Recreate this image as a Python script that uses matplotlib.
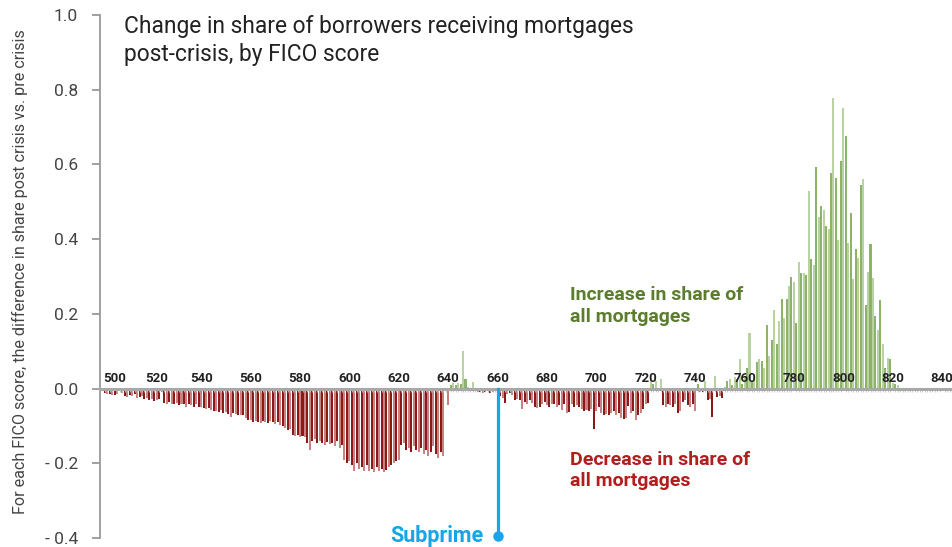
import matplotlib
matplotlib.use("Agg")
import matplotlib.pyplot as plt
import numpy as np

plt.rcParams['font.family'] = ['Roboto', 'DejaVu Sans']

#%% Data - change in share of mortgages by FICO score (post crisis minus pre crisis)

# scores with no bar in the source chart
missing_scores = [503, 508, 513, 523, 531]
scores = [s for s in range(496, 845) if s not in missing_scores]

diff_496_539 = [-0.012, -0.015, -0.014, -0.016,
                -0.016, -0.015, -0.006, -0.012, -0.020, -0.022, -0.018, -0.020, -0.015,
                -0.025, -0.022, -0.020, -0.028, -0.025, -0.030, -0.028, -0.032,
                -0.030, -0.028, -0.010, -0.038, -0.040, -0.035, -0.040, -0.042, -0.038,
                -0.045, -0.040, -0.042, -0.048, -0.040, -0.045, -0.050, -0.042, -0.048]
diff_540_567 = [-0.050, -0.052, -0.055, -0.052, -0.058, -0.060, -0.060, -0.062, -0.058, -0.065,
                -0.063, -0.068, -0.075, -0.066, -0.068, -0.070, -0.070, -0.072, -0.080, -0.085,
                -0.085, -0.090, -0.088, -0.090, -0.092, -0.088, -0.090, -0.092]
diff_568_639 = [-0.088, -0.090, -0.095, -0.090, -0.098, -0.100, -0.105, -0.110, -0.108, -0.125,
                -0.128, -0.125, -0.130, -0.128, -0.130, -0.145, -0.165, -0.140, -0.135, -0.145,
                -0.140, -0.145, -0.150, -0.142, -0.148, -0.145, -0.155, -0.140, -0.160, -0.150,
                -0.190, -0.200, -0.195, -0.205, -0.220, -0.200, -0.215, -0.210, -0.220, -0.205,
                -0.220, -0.215, -0.222, -0.210, -0.220, -0.215, -0.222, -0.218, -0.210, -0.205,
                -0.200, -0.195, -0.190, -0.150, -0.145, -0.165, -0.160, -0.170, -0.155, -0.165,
                -0.170, -0.160, -0.175, -0.165, -0.180, -0.170, -0.155, -0.175, -0.185, -0.170,
                -0.180, 0.000]
diff_640_659 = [-0.043, 0.010, 0.015, 0.010, 0.015, 0.012, 0.100, 0.025, 0.005, -0.003,
                0.017, -0.005, -0.010, -0.008, -0.012, -0.010, -0.006, -0.012, -0.010, -0.005]
diff_660_699 = [-0.008, -0.020, -0.025, -0.038, -0.015, -0.012, -0.018, -0.030, -0.028, -0.030,
                -0.055, -0.035, -0.040, -0.030, -0.038, -0.050, -0.052, -0.048, -0.040, -0.035,
                -0.045, -0.050, -0.040, -0.042, -0.050, -0.045, -0.057, -0.040, -0.065, -0.062,
                -0.040, -0.048, -0.045, -0.050, -0.055, -0.060, -0.058, -0.060, -0.055, -0.108]
diff_700_759 = [-0.060, -0.050, -0.065, -0.070, -0.068, -0.070, -0.065, -0.060, -0.070, -0.065,
                -0.080, -0.082, -0.078, -0.047, -0.065, -0.060, -0.083, -0.070, -0.065, -0.056,
                -0.040, -0.038, 0.020, 0.012, 0.020, -0.005, 0.025, -0.045, -0.050, -0.040,
                -0.045, -0.048, -0.042, -0.065, -0.060, -0.035, -0.030, -0.045, -0.050, -0.042,
                -0.060, 0.012, -0.008, -0.010, 0.020, -0.030, -0.028, -0.077, 0.033, -0.022,
                -0.020, -0.025, 0.005, 0.020, 0.025, 0.010, 0.030, 0.025, 0.080, 0.012]
diff_760_822 = [0.030, 0.055, 0.150, 0.020, 0.022, 0.070, 0.080, 0.073, 0.055, 0.170,
                0.087, 0.130, 0.210, 0.120, 0.180, 0.240, 0.190, 0.240, 0.275, 0.300,
                0.285, 0.176, 0.340, 0.310, 0.310, 0.305, 0.530, 0.346, 0.330, 0.594,
                0.460, 0.490, 0.478, 0.435, 0.426, 0.578, 0.777, 0.565, 0.398, 0.610,
                0.752, 0.676, 0.389, 0.470, 0.294, 0.373, 0.350, 0.544, 0.562, 0.225,
                0.312, 0.386, 0.297, 0.194, 0.158, 0.236, 0.118, 0.055, 0.082, 0.078,
                0.015, 0.013, 0.010]
diff_823_844 = [0.0, 0.0, 0.0, 0.0, 0.0, 0.0, 0.0, 0.0, 0.0, 0.0, 0.0,
                0.0, 0.0, 0.0, 0.0, 0.0, 0.0, 0.0, 0.0, 0.0, 0.0, 0.0]

diffs = np.array(diff_496_539 + diff_540_567 + diff_568_639 + diff_640_659
                 + diff_660_699 + diff_700_759 + diff_760_822 + diff_823_844)

tick_scores = list(range(500, 841, 20))
y_ticks = [-0.4, -0.2, 0.0, 0.2, 0.4, 0.6, 0.8, 1.0]
y_tick_labels = ['- 0.4', '- 0.2', '0.0', '0.2', '0.4', '0.6', '0.8', '1.0']
subprime_score = 660

#%% Plot

pos = np.arange(len(scores))
pos_of = dict(zip(scores, pos))

red_dark, red_light = '#8a1a1a', '#c98282'
green_dark, green_light = '#8db26a', '#b9d2a1'
colors = []
for i, d in enumerate(diffs):
    if d >= 0:
        colors.append(green_dark if i % 2 == 0 else green_light)
    else:
        colors.append(red_dark if i % 2 == 0 else red_light)

fig = plt.figure(figsize=(9.53, 5.47), dpi=100)
ax = fig.add_axes([100/953, 9/547, 852/953, 523/547])

ax.bar(pos, diffs, width=0.82, color=colors, linewidth=0, zorder=1)

ax.set_xlim(pos_of[500] - 6, pos_of[840] + 4)
ax.set_ylim(-0.4, 1.0)

# spines
for side in ['top', 'right']:
    ax.spines[side].set_visible(False)
ax.spines['left'].set_color('#9a9a9a')
ax.spines['left'].set_linewidth(1.3)
ax.spines['bottom'].set_position(('data', 0))
ax.spines['bottom'].set_color('#a8a8a8')
ax.spines['bottom'].set_linewidth(2.2)
ax.spines['bottom'].set_zorder(3)

ax.set_yticks(y_ticks)
ax.set_yticklabels(y_tick_labels)
ax.tick_params(axis='y', direction='out', length=6, width=1.3, color='#9a9a9a',
               labelsize=12.5, labelcolor='#444444', pad=10)

# x ticks: small marks every score, labels sit above the zero line
ax.set_xticks([pos_of[s] for s in tick_scores])
ax.set_xticklabels([])
ax.tick_params(axis='x', which='major', length=0)
ax.set_xticks(pos, minor=True)
ax.tick_params(axis='x', which='minor', direction='out', length=2.5, width=0.6, color='#c4c4c4')
for s in tick_scores:
    ax.annotate(str(s), (pos_of[s], 0), xytext=(0, 5), textcoords='offset points',
                ha='center', va='baseline', fontsize=9.5, fontweight='bold', color='#222222')

# subprime marker
xs = pos_of[subprime_score]
ax.plot([xs, xs], [0, -0.395], color='#16a5e6', lw=2.3, zorder=4, clip_on=False)
ax.plot([xs], [-0.395], 'o', color='#16a5e6', ms=6.5, zorder=4, clip_on=False)
ax.annotate('Subprime', (xs, -0.395), xytext=(-10, 0), textcoords='offset points',
            ha='right', va='center', fontsize=15.5, fontweight='bold', color='#16a5e6',
            annotation_clip=False)

# annotations
ax.text(pos_of[690] - 0.5, 0.22, 'Increase in share of\nall mortgages', ha='left', va='center',
        fontsize=14, fontweight='bold', color='#5b7d2e', linespacing=1.3)
ax.text(pos_of[690] - 0.5, -0.219, 'Decrease in share of\nall mortgages', ha='left', va='center',
        fontsize=14, fontweight='bold', color='#b01e1e', linespacing=1.2)

fig.text(124/953, 1 - 15/547, 'Change in share of borrowers receiving mortgages\npost-crisis, by FICO score',
         ha='left', va='top', fontsize=16.4, color='#222222', linespacing=1.3)
fig.text(20/953, 1 - 272/547, 'For each FICO score, the difference in share post crisis vs. pre crisis',
         rotation=90, ha='center', va='center', fontsize=11.6, color='#444444')

fig.savefig('out.png', dpi=100)
